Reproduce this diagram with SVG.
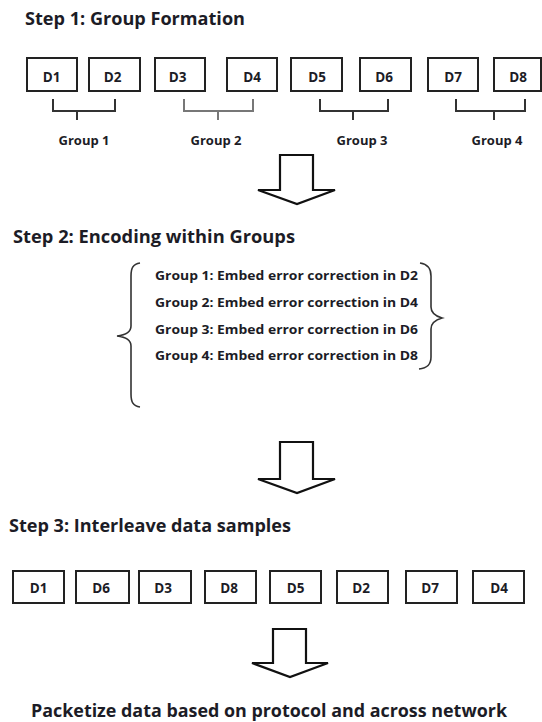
<svg xmlns="http://www.w3.org/2000/svg" width="542" height="722" viewBox="0 0 542 722">
<style>
  .title { font-family: "Open Sans", "Liberation Sans", sans-serif; font-weight: 700; font-size: 17.5px; fill: #1c1c26; }
  .lbl { font-family: "Open Sans", "Liberation Sans", sans-serif; font-weight: 700; font-size: 13.5px; fill: #1c1c26; text-anchor: middle; }
  .glbl { font-family: "Open Sans", "Liberation Sans", sans-serif; font-weight: 700; font-size: 13px; fill: #1c1c26; text-anchor: middle; }
  .enc { font-family: "Open Sans", "Liberation Sans", sans-serif; font-weight: 700; font-size: 12.5px; fill: #1c1c26; }
  .box { fill: #ffffff; stroke: #222; stroke-width: 2; }
  .brk { fill: none; stroke: #333; stroke-width: 2; }
  .brace { fill: none; stroke: #333; stroke-width: 1.6; }
  .arrow { fill: #ffffff; stroke: #111; stroke-width: 2.2; stroke-linejoin: miter; }
</style>

<text class="title" x="25" y="25" textLength="220" lengthAdjust="spacingAndGlyphs">Step 1: Group Formation</text>

<g id="top-row">
  <g id="t-D1"><rect class="box" x="27" y="58" width="50" height="33"/><text class="lbl" x="51.5" y="82">D1</text></g>
  <g id="t-D2"><rect class="box" x="89" y="58" width="51" height="33"/><text class="lbl" x="112.5" y="82">D2</text></g>
  <g id="t-D3"><rect class="box" x="155" y="58" width="50" height="33"/><text class="lbl" x="177.5" y="82">D3</text></g>
  <g id="t-D4"><rect class="box" x="227" y="58" width="50" height="33"/><text class="lbl" x="252" y="82">D4</text></g>
  <g id="t-D5"><rect class="box" x="291" y="58" width="51" height="33"/><text class="lbl" x="317" y="82">D5</text></g>
  <g id="t-D6"><rect class="box" x="360" y="58" width="51" height="33"/><text class="lbl" x="384" y="82">D6</text></g>
  <g id="t-D7"><rect class="box" x="428" y="58" width="50" height="33"/><text class="lbl" x="453" y="82">D7</text></g>
  <g id="t-D8"><rect class="box" x="494" y="58" width="47" height="33"/><text class="lbl" x="518" y="82">D8</text></g>
</g>

<g id="brackets">
  <path class="brk" d="M53,99 V111 H115 V99 M77,111 V120"/>
  <path class="brk" style="stroke:#777" d="M184,99 V111 H253 V99 M218,111 V120"/>
  <path class="brk" d="M320,99 V111 H388 V99 M353,111 V120"/>
  <path class="brk" d="M456,99 V111 H525 V99 M494,111 V120"/>
</g>

<g id="group-labels">
  <text class="glbl" x="84" y="145">Group 1</text>
  <text class="glbl" x="216" y="145">Group 2</text>
  <text class="glbl" x="362" y="145">Group 3</text>
  <text class="glbl" x="497" y="145">Group 4</text>
</g>

<g id="connectors">
  <polygon class="arrow" points="280,155 313,155 313,190 335,190 297,204 258,190 280,190"/>
  <polygon class="arrow" points="280,442 313,442 313,479 335,479 297,493 258,479 280,479"/>
  <polygon class="arrow" points="273,629 306,629 306,663 328,663 290,677 252,663 273,663"/>
</g>

<text class="title" x="13" y="243" textLength="282" lengthAdjust="spacingAndGlyphs">Step 2: Encoding within Groups</text>

<g id="encoding">
  <path class="brace" d="M140,263 C133,264 131,268 131,276 L131,326 C131,332 126,335 117,336 C126,337 131,340 131,346 L131,394 C131,402 133,406 140,407"/>
  <path class="brace" d="M420,263 C427,264 431,268 431,276 L431,307 C431,313 435,316 442,318 C435,320 431,323 431,329 L431,357 C431,364 428,368 419,369"/>
  <text class="enc" x="155" y="280" textLength="263" lengthAdjust="spacingAndGlyphs">Group 1: Embed error correction in D2</text>
  <text class="enc" x="155" y="307" textLength="263" lengthAdjust="spacingAndGlyphs">Group 2: Embed error correction in D4</text>
  <text class="enc" x="155" y="334" textLength="263" lengthAdjust="spacingAndGlyphs">Group 3: Embed error correction in D6</text>
  <text class="enc" x="155" y="360" textLength="263" lengthAdjust="spacingAndGlyphs">Group 4: Embed error correction in D8</text>
</g>

<text class="title" x="9" y="532" textLength="282" lengthAdjust="spacingAndGlyphs">Step 3: Interleave data samples</text>

<g id="bottom-row">
  <g id="b-D1"><rect class="box" x="13" y="571" width="51" height="32"/><text class="lbl" x="38.5" y="593">D1</text></g>
  <g id="b-D6"><rect class="box" x="76" y="571" width="53" height="32"/><text class="lbl" x="101" y="593">D6</text></g>
  <g id="b-D3"><rect class="box" x="139" y="571" width="52" height="32"/><text class="lbl" x="163" y="593">D3</text></g>
  <g id="b-D8"><rect class="box" x="205" y="571" width="51" height="32"/><text class="lbl" x="229" y="593">D8</text></g>
  <g id="b-D5"><rect class="box" x="270" y="571" width="51" height="32"/><text class="lbl" x="295.5" y="593">D5</text></g>
  <g id="b-D2"><rect class="box" x="337" y="571" width="51" height="32"/><text class="lbl" x="361" y="593">D2</text></g>
  <g id="b-D7"><rect class="box" x="406" y="571" width="51" height="32"/><text class="lbl" x="430" y="593">D7</text></g>
  <g id="b-D4"><rect class="box" x="473" y="571" width="51" height="32"/><text class="lbl" x="499" y="593">D4</text></g>
</g>

<text class="title" x="31" y="717" textLength="476" lengthAdjust="spacingAndGlyphs">Packetize data based on protocol and across network</text>
</svg>
